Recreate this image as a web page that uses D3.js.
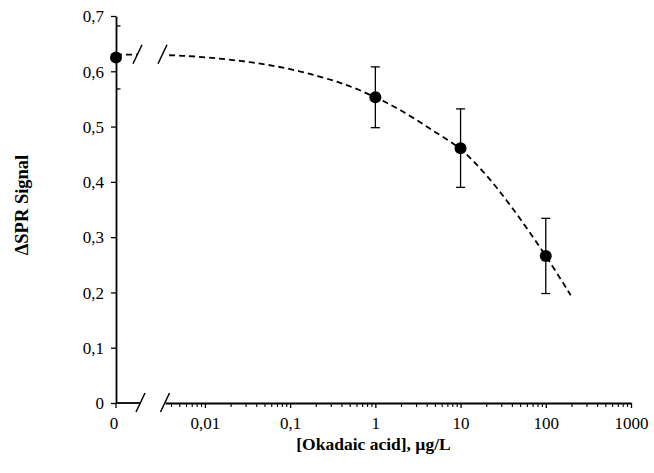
<!DOCTYPE html>
<html><head><meta charset="utf-8">
<script src="https://cdn.jsdelivr.net/npm/d3@7"></script>
<style>
body{margin:0;background:#fff}
text{font-family:"Liberation Serif","Times New Roman",serif;fill:#000}
</style>
</head><body>
<svg id="c" width="654" height="473"></svg>
<script>
// ---- data ----
const concentrations = [0, 1, 10, 100];           // µg/L (0 = blank, drawn on broken axis)
const signalMeans   = [0.625, 0.553, 0.461, 0.266];
const signalErrors  = [0.057, 0.055, 0.071, 0.068];
const fitX = [0.0038, 0.0058, 0.0146, 0.0355, 0.086, 0.215, 0.48, 1, 2, 4.5, 10, 19, 39, 100, 196];
const fitY = [0.629, 0.628, 0.623, 0.616, 0.606, 0.591, 0.574, 0.553, 0.529, 0.495, 0.459, 0.416, 0.356, 0.266, 0.195];
const fitTop = 0.63;
const yTicks = [0, 0.1, 0.2, 0.3, 0.4, 0.5, 0.6, 0.7];
const yTickLabels = ["0", "0,1", "0,2", "0,3", "0,4", "0,5", "0,6", "0,7"];
const xTickValues = [0.01, 0.1, 1, 10, 100, 1000];
const xTickLabels = ["0,01", "0,1", "1", "10", "100", "1000"];
const zeroTickLabel = "0";
const logStart = 0.0034;
const xTitle = "[Okadaic acid], µg/L";
const yTitle = "ΔSPR Signal";

// ---- layout ----
const mLeft = 116, mRight = 631, mTop = 16, mBottom = 403;
const breakA = 140.5, breakB = 165;   // axis break (bottom)
const tickFont = "17px", titleFont = "17.5px";
const svg = d3.select("#c");

const y = d3.scaleLinear().domain([0, 0.7]).range([mBottom, mTop]);
const xLog = d3.scaleLog().domain([logStart, 1000]).range([breakB, mRight]);
const xPos = c => c === 0 ? mLeft : xLog(c);

svg.append("defs").append("clipPath").attr("id", "plotclip")
  .append("rect").attr("x", mLeft).attr("y", 0).attr("width", 654 - mLeft).attr("height", 473);

// ---- y axis ----
const yAxis = svg.append("g").attr("transform", `translate(${mLeft},0)`)
  .call(d3.axisLeft(y).tickValues(yTicks).tickSize(5).tickSizeOuter(0).tickPadding(7)
    .tickFormat((d, i) => yTickLabels[i]));
yAxis.select(".domain").attr("stroke", "#000").attr("stroke-width", 1.8);
yAxis.selectAll(".tick line").attr("stroke", "#000").attr("stroke-width", 1.3);
yAxis.selectAll(".tick text").style("font-size", tickFont).attr("dy", "0.34em");

// ---- x axis: zero segment ----
const xAxis = svg.append("g");
xAxis.append("line").attr("x1", mLeft).attr("x2", breakA).attr("y1", mBottom).attr("y2", mBottom)
  .attr("stroke", "#000").attr("stroke-width", 1.8);
xAxis.append("line").attr("x1", mLeft).attr("x2", mLeft).attr("y1", mBottom).attr("y2", mBottom + 5)
  .attr("stroke", "#000").attr("stroke-width", 1.3);
xAxis.append("text").attr("x", mLeft - 2).attr("y", mBottom + 26).attr("text-anchor", "middle")
  .style("font-size", tickFont).text(zeroTickLabel);

// ---- x axis: log segment ----
const xMajor = svg.append("g").attr("transform", `translate(0,${mBottom})`)
  .call(d3.axisBottom(xLog).tickValues(xTickValues).tickSize(5).tickSizeOuter(0).tickPadding(9)
    .tickFormat((d, i) => xTickLabels[i]));
xMajor.select(".domain").attr("stroke", "#000").attr("stroke-width", 1.8);
xMajor.selectAll(".tick line").attr("stroke", "#000").attr("stroke-width", 1.3);
xMajor.selectAll(".tick text").style("font-size", tickFont);

const minorVals = xLog.ticks().filter(v => Math.abs(Math.log10(v) - Math.round(Math.log10(v))) > 1e-6 && v >= 0.004);
const xMinor = svg.append("g").attr("transform", `translate(0,${mBottom})`)
  .call(d3.axisBottom(xLog).tickValues(minorVals).tickSize(4).tickSizeOuter(0).tickFormat(""));
xMinor.select(".domain").remove();
xMinor.selectAll(".tick line").attr("stroke", "#000").attr("stroke-width", 1.1);

// ---- break marks ----
function slash(cx, cy) {
  svg.append("line").attr("x1", cx + 4.5).attr("y1", cy - 10).attr("x2", cx - 4.5).attr("y2", cy + 9)
    .attr("stroke", "#000").attr("stroke-width", 1.5);
}
slash(breakA, mBottom); slash(breakB, mBottom);
const fitLevel = y(fitTop);
slash(137.5, fitLevel); slash(162.5, fitLevel);

// ---- fitted curve ----
const fit = fitX.map((v, i) => ({ x: v, y: fitY[i] }));
svg.append("path").datum(fit)
  .attr("d", d3.line().x(d => xLog(d.x)).y(d => y(d.y)).curve(d3.curveCatmullRom))
  .attr("fill", "none").attr("stroke", "#000").attr("stroke-width", 1.8).attr("stroke-dasharray", "6,4");
svg.append("line").attr("x1", mLeft).attr("x2", 137.5).attr("y1", fitLevel).attr("y2", fitLevel)
  .attr("fill", "none").attr("stroke", "#000").attr("stroke-width", 1.8).attr("stroke-dasharray", "6,4");

// ---- error bars ----
const pts = concentrations.map((c, i) => ({ c, m: signalMeans[i], e: signalErrors[i] }));
const eb = svg.append("g").attr("clip-path", "url(#plotclip)").attr("stroke", "#000").attr("stroke-width", 1.3);
pts.forEach(p => {
  const cx = xPos(p.c);
  eb.append("line").attr("x1", cx).attr("x2", cx).attr("y1", y(p.m + p.e)).attr("y2", y(p.m - p.e));
  [p.m + p.e, p.m - p.e].forEach(v => {
    eb.append("line").attr("x1", cx - 4.5).attr("x2", cx + 4.5).attr("y1", y(v)).attr("y2", y(v));
  });
});

// ---- points ----
svg.append("g").selectAll("circle").data(pts).join("circle")
  .attr("cx", d => xPos(d.c)).attr("cy", d => y(d.m)).attr("r", 6).attr("fill", "#000");

// ---- titles ----
svg.append("text").attr("x", (mLeft + mRight) / 2).attr("y", 450).attr("text-anchor", "middle")
  .style("font-size", titleFont).style("font-weight", "bold").text(xTitle);
svg.append("text").attr("transform", `translate(28,205) rotate(-90)`)
  .attr("text-anchor", "middle").style("font-size", "18.5px").style("font-weight", "bold").text(yTitle);
</script>
</body></html>
